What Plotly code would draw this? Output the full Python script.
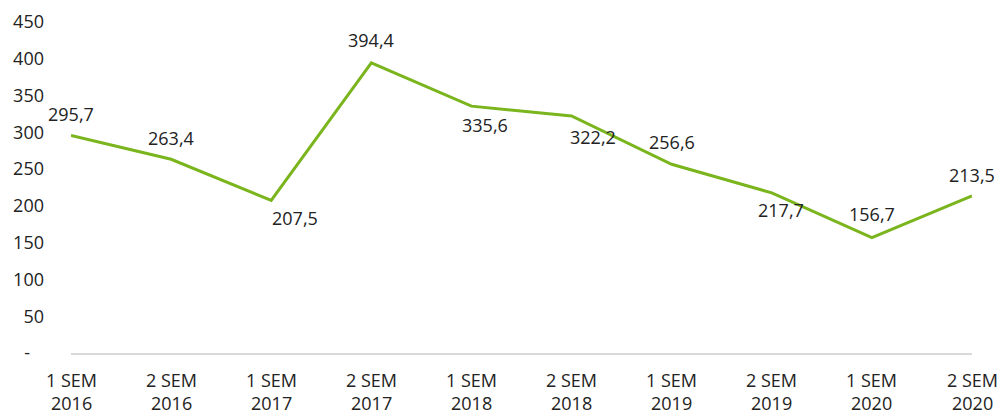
import plotly.graph_objects as go

semesters = ["1 SEM", "2 SEM", "1 SEM", "2 SEM", "1 SEM", "2 SEM", "1 SEM", "2 SEM", "1 SEM", "2 SEM"]
years = ["2016", "2016", "2017", "2017", "2018", "2018", "2019", "2019", "2020", "2020"]
values = [295.7, 263.4, 207.5, 394.4, 335.6, 322.2, 256.6, 217.7, 156.7, 213.5]
y_ticks = [0, 50, 100, 150, 200, 250, 300, 350, 400, 450]

# label offsets (pixels) relative to each point: (dx, dy down)
label_offsets = [(0, -22), (0, -21), (24, 18), (0, -23), (14, 19),
                 (21, 21), (0, -22), (9, 17), (0, -24), (0, -21)]

FONT = "Open Sans"
FS = 18
TXT = "#222222"
GREEN = "#7AB51D"

idx = list(range(len(values)))

fig = go.Figure()
fig.add_trace(go.Scatter(
    x=idx, y=values, mode="lines",
    line=dict(color=GREEN, width=3),
    hoverinfo="skip", showlegend=False,
))

def fmt(v):
    return f"{v:.1f}".replace(".", ",")

annotations = []
for i, v in enumerate(values):
    dx, dy = label_offsets[i]
    annotations.append(dict(
        x=i, y=v, xref="x", yref="y", text=fmt(v), showarrow=False,
        xanchor="center", yanchor="middle", xshift=dx, yshift=-dy,
        font=dict(family=FONT, size=FS, color=TXT),
    ))
for i, (s, yr) in enumerate(zip(semesters, years)):
    annotations.append(dict(
        x=i, y=0, xref="x", yref="paper", text=s, showarrow=False,
        xanchor="center", yanchor="middle", yshift=-26.5,
        font=dict(family=FONT, size=FS, color=TXT), borderpad=0,
    ))
    annotations.append(dict(
        x=i, y=0, xref="x", yref="paper", text=yr, showarrow=False,
        xanchor="center", yanchor="middle", yshift=-49.5,
        font=dict(family=FONT, size=FS, color=TXT), borderpad=0,
    ))

tick_text = ["-\u00a0\u00a0\u00a0" if t == 0 else str(t) for t in y_ticks]

fig.update_layout(
    width=998, height=414,
    margin=dict(l=71, r=26, t=22, b=61),
    paper_bgcolor="white", plot_bgcolor="white",
    font=dict(family=FONT, size=FS, color=TXT),
    xaxis=dict(range=[0, 9], showgrid=False, zeroline=False,
               showticklabels=False, showline=True, linecolor="#D9D9D9",
               linewidth=1.5, fixedrange=True, automargin=False),
    yaxis=dict(range=[0, 450], tickvals=y_ticks, ticktext=tick_text,
               showgrid=False, zeroline=False, showline=False,
               ticks="", ticklabelstandoff=26, fixedrange=True,
               automargin=False,
               tickfont=dict(family=FONT, size=FS, color=TXT)),
    annotations=annotations,
)

fig.write_html(
    "out.html",
    config={"displayModeBar": False, "staticPlot": True},
    post_script="document.body.style.margin='0';document.body.style.overflow='hidden';",
)
